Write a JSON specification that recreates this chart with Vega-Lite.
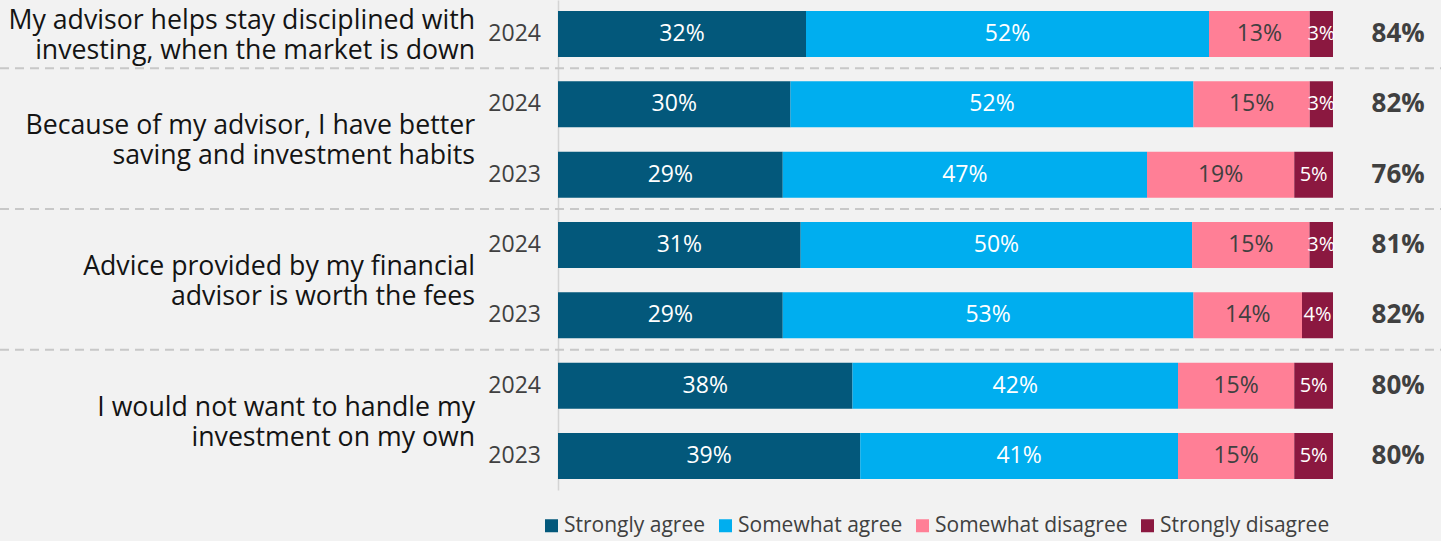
{
  "$schema": "https://vega.github.io/schema/vega-lite/v6.json",
  "width": 775,
  "height": 490,
  "autosize": {"type": "none"},
  "padding": {"left": 558, "top": 0, "right": 108, "bottom": 51},
  "background": "#f2f2f2",
  "config": {"view": {"stroke": null}, "font": "Open Sans"},
  "datasets": {
    "segments": [
      {"row": 1, "cat": "Strongly agree", "k": 1, "value": 32},
      {"row": 1, "cat": "Somewhat agree", "k": 2, "value": 52},
      {"row": 1, "cat": "Somewhat disagree", "k": 3, "value": 13},
      {"row": 1, "cat": "Strongly disagree", "k": 4, "value": 3},
      {"row": 2, "cat": "Strongly agree", "k": 1, "value": 30},
      {"row": 2, "cat": "Somewhat agree", "k": 2, "value": 52},
      {"row": 2, "cat": "Somewhat disagree", "k": 3, "value": 15},
      {"row": 2, "cat": "Strongly disagree", "k": 4, "value": 3},
      {"row": 3, "cat": "Strongly agree", "k": 1, "value": 29},
      {"row": 3, "cat": "Somewhat agree", "k": 2, "value": 47},
      {"row": 3, "cat": "Somewhat disagree", "k": 3, "value": 19},
      {"row": 3, "cat": "Strongly disagree", "k": 4, "value": 5},
      {"row": 4, "cat": "Strongly agree", "k": 1, "value": 31},
      {"row": 4, "cat": "Somewhat agree", "k": 2, "value": 50},
      {"row": 4, "cat": "Somewhat disagree", "k": 3, "value": 15},
      {"row": 4, "cat": "Strongly disagree", "k": 4, "value": 3},
      {"row": 5, "cat": "Strongly agree", "k": 1, "value": 29},
      {"row": 5, "cat": "Somewhat agree", "k": 2, "value": 53},
      {"row": 5, "cat": "Somewhat disagree", "k": 3, "value": 14},
      {"row": 5, "cat": "Strongly disagree", "k": 4, "value": 4},
      {"row": 6, "cat": "Strongly agree", "k": 1, "value": 38},
      {"row": 6, "cat": "Somewhat agree", "k": 2, "value": 42},
      {"row": 6, "cat": "Somewhat disagree", "k": 3, "value": 15},
      {"row": 6, "cat": "Strongly disagree", "k": 4, "value": 5},
      {"row": 7, "cat": "Strongly agree", "k": 1, "value": 39},
      {"row": 7, "cat": "Somewhat agree", "k": 2, "value": 41},
      {"row": 7, "cat": "Somewhat disagree", "k": 3, "value": 15},
      {"row": 7, "cat": "Strongly disagree", "k": 4, "value": 5}
    ],
    "rowinfo": [
      {"row": 1, "year": "2024", "total": "84%"},
      {"row": 2, "year": "2024", "total": "82%"},
      {"row": 3, "year": "2023", "total": "76%"},
      {"row": 4, "year": "2024", "total": "81%"},
      {"row": 5, "year": "2023", "total": "82%"},
      {"row": 6, "year": "2024", "total": "80%"},
      {"row": 7, "year": "2023", "total": "80%"}
    ],
    "questions": [
      {"row": 1, "span": 1, "lines": ["My advisor helps stay disciplined with", "investing, when the market is down"]},
      {"row": 2, "span": 2, "lines": ["Because of my advisor, I have better", "saving and investment habits"]},
      {"row": 4, "span": 2, "lines": ["Advice provided by my financial", "advisor is worth the fees"]},
      {"row": 6, "span": 2, "lines": ["I would not want to handle my", "investment on my own"]}
    ],
    "separators": [{"row": 2}, {"row": 4}, {"row": 6}]
  },
  "layer": [
    {
      "data": {"name": "separators"},
      "mark": {"type": "rule", "strokeDash": [9, 6], "strokeWidth": 2, "color": "#c8c8c8", "yOffset": -13},
      "encoding": {
        "y": {"field": "row", "type": "ordinal", "bandPosition": 0, "scale": {"domain": [1, 2, 3, 4, 5, 6, 7], "paddingInner": 0.346, "paddingOuter": 0.156}, "axis": {"title": null, "labels": false, "ticks": false, "grid": false, "domainColor": "#d4d4d4", "domainWidth": 1.5}},
        "x": {"datum": -0.72, "type": "quantitative", "scale": {"domain": [0, 1], "nice": false, "zero": false}, "axis": null},
        "x2": {"datum": 1.14}
      }
    },
    {
      "data": {"name": "segments"},
      "transform": [
        {"stack": "value", "groupby": ["row"], "sort": [{"field": "k"}], "offset": "normalize", "as": ["x0", "x1"]}
      ],
      "mark": {"type": "bar"},
      "encoding": {
        "y": {"field": "row", "type": "ordinal"},
        "x": {"field": "x0", "type": "quantitative", "scale": {"domain": [0, 1], "nice": false, "zero": false}, "axis": null},
        "x2": {"field": "x1"},
        "color": {
          "field": "cat",
          "type": "nominal",
          "scale": {"domain": ["Strongly agree", "Somewhat agree", "Somewhat disagree", "Strongly disagree"], "range": ["#03587b", "#00aeef", "#ff7f96", "#8b1840"]},
          "legend": {"orient": "none", "legendX": -17, "legendY": 515, "direction": "horizontal", "columns": 4, "title": null, "symbolType": "square", "symbolSize": 169, "symbolStrokeWidth": 0, "symbolOpacity": 1, "labelFontSize": 21, "labelColor": "#404040", "labelFont": "Open Sans", "labelLimit": 0, "columnPadding": 9, "labelOffset": 2, "padding": 0}
        }
      }
    },
    {
      "data": {"name": "segments"},
      "transform": [
        {"stack": "value", "groupby": ["row"], "sort": [{"field": "k"}], "offset": "normalize", "as": ["x0", "x1"]},
        {"calculate": "(datum.x0 + datum.x1) / 2", "as": "mid"},
        {"calculate": "datum.value + '%'", "as": "label"},
        {"filter": "datum.value > 5"}
      ],
      "mark": {"type": "text", "align": "center", "baseline": "middle", "font": "Open Sans", "fontSize": 23},
      "encoding": {
        "y": {"field": "row", "type": "ordinal"},
        "x": {"field": "mid", "type": "quantitative", "scale": {"domain": [0, 1], "nice": false, "zero": false}, "axis": null},
        "text": {"field": "label"},
        "color": {"condition": {"test": "datum.cat === 'Somewhat disagree'", "value": "#404040"}, "value": "#ffffff"}
      }
    },
    {
      "data": {"name": "segments"},
      "transform": [
        {"stack": "value", "groupby": ["row"], "sort": [{"field": "k"}], "offset": "normalize", "as": ["x0", "x1"]},
        {"calculate": "(datum.x0 + datum.x1) / 2", "as": "mid"},
        {"calculate": "datum.value + '%'", "as": "label"},
        {"filter": "datum.value <= 5"}
      ],
      "mark": {"type": "text", "align": "center", "baseline": "middle", "font": "Open Sans", "fontSize": 20, "color": "#ffffff"},
      "encoding": {
        "y": {"field": "row", "type": "ordinal"},
        "x": {"field": "mid", "type": "quantitative", "scale": {"domain": [0, 1], "nice": false, "zero": false}, "axis": null},
        "text": {"field": "label"}
      }
    },
    {
      "data": {"name": "rowinfo"},
      "mark": {"type": "text", "align": "right", "baseline": "middle", "fontSize": 23, "color": "#404040", "font": "Open Sans"},
      "encoding": {
        "y": {"field": "row", "type": "ordinal"},
        "x": {"datum": -0.022, "type": "quantitative", "scale": {"domain": [0, 1], "nice": false, "zero": false}, "axis": null},
        "text": {"field": "year"}
      }
    },
    {
      "data": {"name": "rowinfo"},
      "mark": {"type": "text", "align": "center", "baseline": "middle", "fontSize": 26, "fontWeight": "bold", "color": "#404040", "font": "Open Sans"},
      "encoding": {
        "y": {"field": "row", "type": "ordinal"},
        "x": {"datum": 1.084, "type": "quantitative", "scale": {"domain": [0, 1], "nice": false, "zero": false}, "axis": null},
        "text": {"field": "total"}
      }
    },
    {
      "data": {"name": "questions"},
      "transform": [{"filter": "datum.span === 1"}],
      "mark": {"type": "text", "align": "right", "baseline": "middle", "fontSize": 26.7, "lineHeight": 30, "dy": -13, "color": "#141414", "font": "Open Sans"},
      "encoding": {
        "y": {"field": "row", "type": "ordinal", "bandPosition": 0.5},
        "x": {"datum": -0.107, "type": "quantitative", "scale": {"domain": [0, 1], "nice": false, "zero": false}, "axis": null},
        "text": {"field": "lines"}
      }
    },
    {
      "data": {"name": "questions"},
      "transform": [{"filter": "datum.span === 2"}],
      "mark": {"type": "text", "align": "right", "baseline": "middle", "fontSize": 26.7, "lineHeight": 30, "dy": -13, "color": "#141414", "font": "Open Sans"},
      "encoding": {
        "y": {"field": "row", "type": "ordinal", "bandPosition": 1.2646},
        "x": {"datum": -0.107, "type": "quantitative", "scale": {"domain": [0, 1], "nice": false, "zero": false}, "axis": null},
        "text": {"field": "lines"}
      }
    }
  ]
}
